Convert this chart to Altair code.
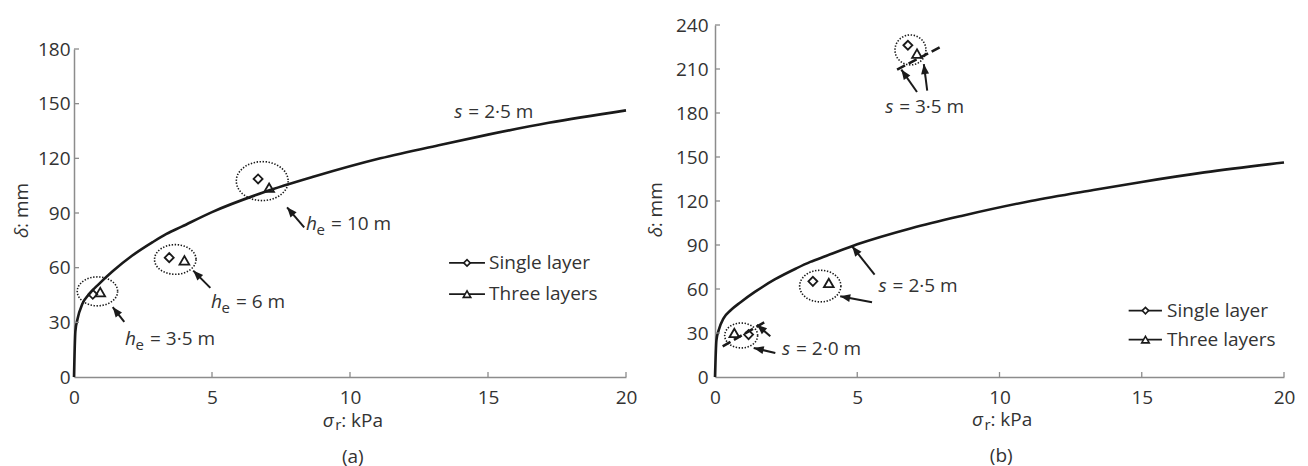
import math
import altair as alt
import pandas as pd

FONT = "Open Sans"
INK = "#1a1a1a"
TXT = "#333333"
AXC = "#8c8c8c"
FS = 19
FS_SUB = 15

# ---------------- values ----------------
# s = 2.5 m curve (same in both panels)
curve_sigma = [0, 0.05, 0.13, 0.3, 0.55, 0.9, 1.4, 2.1, 2.85, 3.35, 3.9, 5.0, 6.9, 8.7, 11.1, 13.3, 15.0, 17.2, 20]
curve_delta = [0, 25, 32, 40, 45.5, 51, 58, 66.5, 74, 78.5, 82.5, 90.5, 101.5, 110, 120, 127.5, 133, 139.5, 146.3]

x_ticks = [0, 5, 10, 15, 20]
y_ticks_a = [0, 30, 60, 90, 120, 150, 180]
y_ticks_b = [0, 30, 60, 90, 120, 150, 180, 210, 240]

# (a) h_e = 3.5, 6, 10 m
single_a_sigma = [0.68, 3.45, 6.67]
single_a_delta = [45.4, 65.5, 108.7]
three_a_sigma = [0.95, 4.0, 7.07]
three_a_delta = [46.6, 64.0, 103.9]

# (b) s = 2.0, 2.5, 3.5 m
single_b_sigma = [1.18, 3.44, 6.78]
single_b_delta = [28.9, 65.2, 226.2]
three_b_sigma = [0.68, 4.0, 7.10]
three_b_delta = [30.0, 64.1, 220.5]

# dashed fragments of other spacing curves in (b)
dash_b_seg = ["s35", "s35", "s20", "s20"]
dash_b_sigma = [6.40, 7.92, 0.27, 1.79]
dash_b_delta = [209.6, 225.0, 20.9, 38.0]

legend_labels = ["Single layer", "Three layers"]

# ---------------- annotation placement ----------------
PANELS = {
    "a": dict(
        width=552, ymax=180, rng=[352, 24], yticks=y_ticks_a, ylabpad=4,
        single=(single_a_sigma, single_a_delta), three=(three_a_sigma, three_a_delta),
        dash=None,
        ell=dict(x=[0.85, 3.67, 6.82], y=[47.0, 64.5, 107.5], w=[40.5, 41.7, 52.0], h=[29.0, 29.7, 39.0]),
        arrows=[((8.34, 82.1), (7.72, 93.1)), ((4.94, 48.9), (4.32, 58.4)), ((1.822, 30.2), (1.402, 38.4))],
        s_labels=[((13.78, 141.9), "= 2·5 m")],
        h_labels=[((8.41, 80.5), "= 10 m"), ((4.96, 38.1), "= 6 m"), ((1.85, 17.8), "= 3·5 m")],
        legend=dict(x1=13.59, x2=14.89, xm=14.24, xt=15.04, y=[62.6, 45.5]),
        xtitle=(9.01, -27.4), caption=(10.1, -47.0, "(a)"), ytitle=(-1.667, 76.3),
    ),
    "b": dict(
        width=569, ymax=240, rng=[352, 0], yticks=y_ticks_b, ylabpad=7,
        single=(single_b_sigma, single_b_delta), three=(three_b_sigma, three_b_delta),
        dash=(dash_b_seg, dash_b_sigma, dash_b_delta),
        ell=dict(x=[0.92, 3.70, 6.87], y=[28.3, 62.0, 223.0], w=[33.0, 41.3, 31.0], h=[25.0, 31.7, 30.0]),
        arrows=[((7.10, 194.3), (6.55, 209.6)), ((7.46, 195.3), (7.34, 213.4)),
                ((5.61, 69.8), (4.82, 89.1)), ((5.52, 50.9), (4.40, 55.0)),
                ((1.944, 27.7), (1.476, 35.7)), ((2.12, 16.4), (1.36, 19.8))],
        s_labels=[((5.98, 180.0), "= 3·5 m"), ((5.75, 57.7), "= 2·5 m"), ((2.355, 14.8), "= 2·0 m")],
        h_labels=[],
        legend=dict(x1=14.54, x2=15.71, xm=15.13, xt=15.89, y=[45.3, 25.5]),
        xtitle=(9.03, -33.6), caption=(10.06, -58.0, "(b)"), ytitle=(-1.863, 95.2),
    ),
}

ARROW_HEAD = "M0,0L0.8,2L-0.8,2Z"


def ellipse_path(ratio):
    pts = []
    for i in range(0, 360, 10):
        t = math.radians(i)
        pts.append(f"{math.cos(t):.3f},{ratio * math.sin(t):.3f}")
    return "M" + "L".join(pts) + "Z"


def build_panel(p):
    W, ymax, rng = p["width"], p["ymax"], p["rng"]
    kx = W / 20.0
    ky = (rng[0] - rng[1]) / ymax
    sx = alt.Scale(domain=[0, 20], nice=False, zero=False)
    sy = alt.Scale(domain=[0, ymax], range=rng, nice=False, zero=False)
    ax_x = alt.Axis(values=x_ticks, title=None, grid=False, ticks=False, tickSize=0,
                    labelPadding=11, labelFont=FONT, labelFontSize=FS, labelColor=TXT,
                    domainColor=AXC, domainWidth=1.5, labelFlush=False)
    ax_y = alt.Axis(values=p["yticks"], title=None, grid=False, ticks=False, tickSize=0,
                    labelPadding=p["ylabpad"], labelFont=FONT, labelFontSize=FS, labelColor=TXT,
                    domainColor=AXC, domainWidth=1.5, labelFlush=False)

    def X(f="x"):
        return alt.X(f"{f}:Q", scale=sx, axis=ax_x)

    def Y(f="y"):
        return alt.Y(f"{f}:Q", scale=sy, axis=ax_y)

    layers = []

    curve = alt.Chart(pd.DataFrame({"x": curve_sigma, "y": curve_delta})).mark_line(
        color=INK, strokeWidth=2.6, interpolate="monotone"
    ).encode(x=X(), y=Y())
    layers.append(curve)

    # axis ticks drawn inward
    tx = [v for v in x_ticks if v > 0]
    ty = [v for v in p["yticks"] if v > 0]
    xt = pd.DataFrame({"x": tx, "y": [0] * len(tx), "y2": [5 / ky] * len(tx)})
    yt = pd.DataFrame({"x": [0] * len(ty), "x2": [5 / kx] * len(ty), "y": ty})
    layers.append(alt.Chart(xt).mark_rule(color=AXC, strokeWidth=1.3).encode(x=X(), y=Y(), y2="y2:Q"))
    layers.append(alt.Chart(yt).mark_rule(color=AXC, strokeWidth=1.3).encode(x=X(), x2="x2:Q", y=Y()))

    if p["dash"]:
        seg, ds, dd = p["dash"]
        layers.append(alt.Chart(pd.DataFrame({"seg": seg, "x": ds, "y": dd})).mark_line(
            color=INK, strokeWidth=2.6, strokeDash=[9, 4]).encode(x=X(), y=Y(), detail="seg:N"))

    # dotted ellipses
    e = p["ell"]
    edf = pd.DataFrame({
        "x": e["x"], "y": e["y"],
        "shape": [ellipse_path(h / w) for w, h in zip(e["w"], e["h"])],
        "size": [w * w for w in e["w"]],
    })
    layers.append(alt.Chart(edf).mark_point(
        filled=False, color=INK, strokeWidth=1.6, strokeDash=[1.4, 1.6], opacity=1
    ).encode(x=X(), y=Y(), shape=alt.Shape("shape:N", scale=None), size=alt.Size("size:Q", scale=None)))

    # arrows
    rows = []
    for (x0, y0), (x1, y1) in p["arrows"]:
        dxp = (x1 - x0) * kx
        dyp = -(y1 - y0) * ky
        ang = math.degrees(math.atan2(dxp, -dyp)) % 360
        rows.append({"x": x0, "y": y0, "x2": x1, "y2": y1, "angle": ang})
    adf = pd.DataFrame(rows)
    layers.append(alt.Chart(adf).mark_rule(color=INK, strokeWidth=2).encode(x=X(), y=Y(), x2="x2:Q", y2="y2:Q"))
    layers.append(alt.Chart(adf).mark_point(
        shape=ARROW_HEAD, size=100, filled=True, color=INK, opacity=1, strokeWidth=0
    ).encode(x=X("x2"), y=Y("y2"), angle=alt.Angle("angle:Q", scale=None)))

    # data markers
    ss, sd = p["single"]
    ts, td = p["three"]
    layers.append(alt.Chart(pd.DataFrame({"x": ss, "y": sd})).mark_point(
        shape="diamond", size=81, filled=False, color=INK, strokeWidth=1.8, opacity=1).encode(x=X(), y=Y()))
    layers.append(alt.Chart(pd.DataFrame({"x": ts, "y": td})).mark_point(
        shape="triangle-up", size=95, filled=False, color=INK, strokeWidth=1.8, opacity=1).encode(x=X(), y=Y()))

    # hand-drawn legend
    lg = p["legend"]
    ldf = pd.DataFrame({"label": legend_labels, "y": lg["y"], "x1": [lg["x1"]] * 2, "x2": [lg["x2"]] * 2,
                        "xm": [lg["xm"]] * 2, "xt": [lg["xt"]] * 2,
                        "shape": ["diamond", "triangle-up"], "size": [42, 56]})
    layers.append(alt.Chart(ldf).mark_rule(color=INK, strokeWidth=1.8).encode(x=X("x1"), x2="x2:Q", y=Y()))
    layers.append(alt.Chart(ldf).mark_point(filled=True, color="white", opacity=1, strokeWidth=1.6, stroke=INK).encode(
        x=X("xm"), y=Y(), shape=alt.Shape("shape:N", scale=None), size=alt.Size("size:Q", scale=None)))
    layers.append(alt.Chart(ldf).mark_text(font=FONT, fontSize=FS, color=TXT, align="left", baseline="middle").encode(
        x=X("xt"), y=Y(), text="label:N"))

    # rich text labels: italic / normal / subscript pieces
    ital, norm, sub = [], [], []

    def add(anchor, pieces):
        ax, ay = anchor
        for text, kind, dxp, dyp in pieces:
            row = {"x": ax + dxp / kx, "y": ay - dyp / ky, "t": text}
            {"i": ital, "n": norm, "s": sub}[kind].append(row)

    for anc, rest in p["s_labels"]:
        add(anc, [("s", "i", 0, 0), (rest, "n", 14, 0)])
    for anc, rest in p["h_labels"]:
        add(anc, [("h", "i", 0, 0), ("e", "s", 10.5, 5), (rest, "n", 25, 0)])
    add(p["xtitle"], [("σ", "i", 0, 0), ("r", "s", 12.5, 3.5), (": kPa", "n", 18.5, 0)])

    def text_layer(rows, size, style):
        return alt.Chart(pd.DataFrame(rows)).mark_text(
            font=FONT, fontSize=size, fontStyle=style, color=TXT, align="left", baseline="alphabetic"
        ).encode(x=X(), y=Y(), text="t:N")

    layers.append(text_layer(ital, FS, "italic"))
    layers.append(text_layer(norm, FS, "normal"))
    layers.append(text_layer(sub, FS_SUB, "normal"))

    cx, cy, ct = p["caption"]
    layers.append(alt.Chart(pd.DataFrame({"x": [cx], "y": [cy], "t": [ct]})).mark_text(
        font=FONT, fontSize=FS, color=TXT, align="center", baseline="alphabetic").encode(x=X(), y=Y(), text="t:N"))

    # rotated y title  "δ: mm"
    yx, yy = p["ytitle"]
    layers.append(alt.Chart(pd.DataFrame({"x": [yx], "y": [yy], "t": ["δ"]})).mark_text(
        font=FONT, fontSize=FS, fontStyle="italic", color=TXT, angle=270, align="left", baseline="alphabetic"
    ).encode(x=X(), y=Y(), text="t:N"))
    layers.append(alt.Chart(pd.DataFrame({"x": [yx], "y": [yy + 10 / ky], "t": [": mm"]})).mark_text(
        font=FONT, fontSize=FS, color=TXT, angle=270, align="left", baseline="alphabetic"
    ).encode(x=X(), y=Y(), text="t:N"))

    return alt.layer(*layers).properties(width=W, height=352)


chart = alt.hconcat(build_panel(PANELS["a"]), build_panel(PANELS["b"]), spacing=9).properties(
    padding={"left": 4, "top": 8, "right": 5, "bottom": 5}
).configure_view(stroke=None)

chart.save("out.html", embed_options={"renderer": "svg", "actions": False})
